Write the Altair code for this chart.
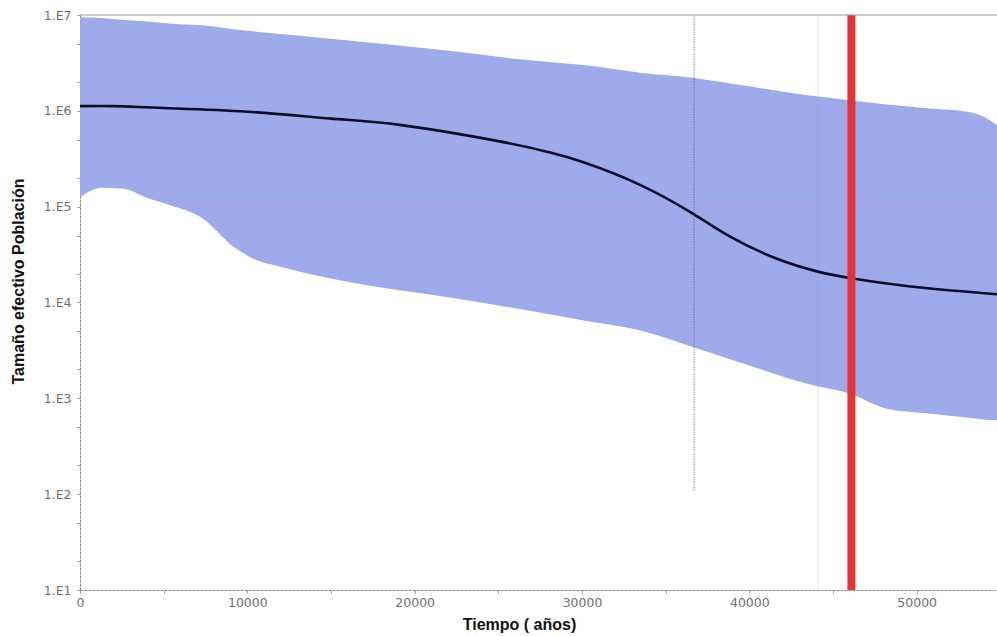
import altair as alt
import pandas as pd

# Bayesian skyline: effective population size through time (years before present)
band_years = [0, 1300, 2500, 4200, 5500, 7200, 9200, 10200, 12200, 16200, 22200,
              26000, 30100, 33500, 36700, 40000, 43500, 46000, 48100, 50900,
              53000, 54000, 54800]
band_lower = [1.26e5, 1.58e5, 1.55e5, 1.2e5, 1.02e5, 7.8e4, 3.8e4, 2.95e4, 2.3e4,
              1.62e4, 1.12e4, 8.7e3, 6.5e3, 5.1e3, 3.4e3, 2.2e3, 1.41e3, 1.12e3,
              7.9e2, 6.9e2, 6.3e2, 6.0e2, 5.9e2]
band_upper = [9.5e6, 9.3e6, 8.9e6, 8.5e6, 8.1e6, 7.8e6, 7.1e6, 6.8e6, 6.3e6,
              5.4e6, 4.2e6, 3.5e6, 3.0e6, 2.5e6, 2.2e6, 1.8e6, 1.45e6, 1.29e6,
              1.17e6, 1.05e6, 9.8e5, 8.7e5, 7.1e5]

median_years = [0, 2000, 5000, 10000, 15000, 19200, 25000, 28000, 30000, 33500,
                36700, 38800, 41500, 44100, 46100, 49500, 54800]
median_ne = [1.12e6, 1.12e6, 1.07e6, 9.8e5, 8.3e5, 7.1e5, 4.83e5, 3.71e5, 2.94e5,
             1.68e5, 8.3e4, 4.92e4, 2.93e4, 2.1e4, 1.79e4, 1.48e4, 1.22e4]

x_max = 54800
y_min, y_max = 1e1, 1e7
marked_year = 46100          # red marker
dotted_year = 36700          # dotted reference line
dotted_floor = 1.1e2
faint_year = 44100
faint_level = 1e5
faint_level_from = 5600

x_ticks = list(range(0, 55000, 5000))
y_ticks = []
for e in range(1, 7):
    for m in (1, 2, 5):
        y_ticks.append(m * 10 ** e)
y_ticks.append(10 ** 7)

band = pd.DataFrame({"year": band_years, "lower": band_lower, "upper": band_upper})
median = pd.DataFrame({"year": median_years, "ne": median_ne})

x_scale = alt.Scale(domain=[0, x_max], nice=False, zero=False)
y_scale = alt.Scale(type="log", domain=[y_min, y_max], nice=False)

label_font = "DejaVu Sans"
title_font = "Liberation Sans"

x_axis = alt.Axis(
    title="Tiempo ( años)", values=x_ticks,
    labelExpr="datum.value % 10000 == 0 ? format(datum.value, 'd') : ''",
    grid=False, tickSize=3, tickColor="#999", domainColor="#8a8a8a",
    domainDash=[3, 1], labelFont=label_font, labelFontSize=12.5,
    labelColor="#707070", labelPadding=3, labelFlush=False,
    titleFont=title_font, titleFontSize=16, titleFontWeight="bold",
    titleColor="#111", titleX=439, titleY=34, titleBaseline="middle",
)
y_axis = alt.Axis(
    title="Tamaño efectivo Población", values=y_ticks,
    labelExpr="abs(log(datum.value)/LN10 - round(log(datum.value)/LN10)) < 0.001 ? '1.E' + round(log(datum.value)/LN10) : ''",
    grid=False, tickSize=3, tickColor="#999", domainColor="#8a8a8a",
    domainDash=[3, 1], labelFont=label_font, labelFontSize=12.5,
    labelColor="#707070", labelPadding=6,
    titleFont=title_font, titleFontSize=16, titleFontWeight="bold",
    titleColor="#111", titleAngle=-90, titleX=-62, titleY=266,
    titleAlign="center", titleBaseline="middle",
)

area = alt.Chart(band).mark_area(color="#9faaea", opacity=1, interpolate="monotone").encode(
    x=alt.X("year:Q", scale=x_scale, axis=x_axis),
    y=alt.Y("upper:Q", scale=y_scale, axis=y_axis),
    y2="lower:Q",
)

hline = alt.Chart(pd.DataFrame({"y": [faint_level], "x0": [faint_level_from], "x1": [x_max]})).mark_rule(
    color="#c0a0d8", strokeWidth=1, opacity=0.6
).encode(x=alt.X("x0:Q", scale=x_scale), x2="x1:Q", y=alt.Y("y:Q", scale=y_scale))

faint_v = alt.Chart(pd.DataFrame({"x": [faint_year], "y0": [y_min], "y1": [y_max]})).mark_rule(
    color="#8890c0", strokeWidth=1, opacity=0.3
).encode(x=alt.X("x:Q", scale=x_scale), y=alt.Y("y0:Q", scale=y_scale), y2="y1:Q")

line = alt.Chart(median).mark_line(color="#0d0d2a", strokeWidth=2.6, interpolate="natural").encode(
    x=alt.X("year:Q", scale=x_scale),
    y=alt.Y("ne:Q", scale=y_scale),
)

dotted = alt.Chart(pd.DataFrame({"x": [dotted_year], "y0": [dotted_floor], "y1": [y_max]})).mark_rule(
    color="#5a5a6a", strokeWidth=1, strokeDash=[1, 1.5]
).encode(x=alt.X("x:Q", scale=x_scale), y=alt.Y("y0:Q", scale=y_scale), y2="y1:Q")

red = alt.Chart(pd.DataFrame({"x": [marked_year], "y0": [y_min], "y1": [y_max]})).mark_rule(
    color="#e5333a", strokeWidth=8
).encode(x=alt.X("x:Q", scale=x_scale), y=alt.Y("y0:Q", scale=y_scale), y2="y1:Q")

top = alt.Chart(pd.DataFrame({"y": [y_max], "x0": [0], "x1": [x_max]})).mark_rule(
    color="#999", strokeWidth=1
).encode(x=alt.X("x0:Q", scale=x_scale), x2="x1:Q", y=alt.Y("y:Q", scale=y_scale))

chart = alt.layer(area, hline, faint_v, line, dotted, red, top).properties(
    width=917, height=575,
    autosize=alt.AutoSizeParams(type="none"),
    padding={"left": 80, "top": 15, "right": 0, "bottom": 46},
    background="white",
).configure_view(stroke=None)

chart.save("out.html", embed_options={"renderer": "svg", "actions": False})
